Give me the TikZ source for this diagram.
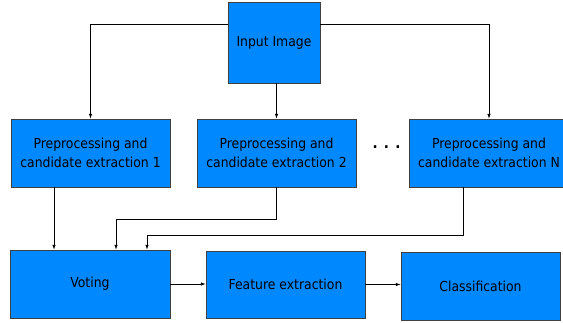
\documentclass[tikz,border=0pt]{standalone}
\usepackage{fontspec}
\setmainfont{DejaVu Sans Condensed}
\usetikzlibrary{arrows.meta}
\definecolor{boxblue}{RGB}{0,136,255}
\begin{document}
\begin{tikzpicture}[x=1pt, y=-1pt, every node/.style={font=\fontsize{13.8}{19}\selectfont},
  box/.style={draw=black!75, fill=boxblue, minimum width=159pt, minimum height=68pt, align=center, inner sep=0pt},
  arr/.style={-{Latex[length=5pt,width=3.5pt]}, black, line width=0.8pt}]
  \path[use as bounding box, clip] (0,0) rectangle (563,323);
  \node[box, minimum width=92pt, minimum height=81pt] (input) at (274,42.5) {Input Image};
  \node[box] (pre1) at (90.5,153) {Preprocessing and\\candidate extraction 1};
  \node[box] (pre2) at (276.5,153) {Preprocessing and\\candidate extraction 2};
  \node[box] (preN) at (489,153) {Preprocessing and\\candidate extraction N};
  \node (dots) at (386.5,147) {\fontsize{15}{15}\selectfont\bfseries . . .};
  \node[box, minimum width=160pt] (voting) at (90,284) {Voting};
  \node[box, minimum height=67pt] (feature) at (285.5,284.5) {Feature extraction};
  \node[box] (classif) at (480.5,286) {Classification};
  % input to the extraction branches
  \draw[arr] ([yshift=18.5pt]input.west) -| (pre1.north);
  \draw[arr] (pre2.north |- input.south) -- (pre2.north);
  \draw[arr] ([yshift=18.5pt]input.east) -| (preN.north);
  % branches to voting
  \coordinate (v1) at ([xshift=-36pt]voting.north);
  \coordinate (v2) at ([xshift=26pt]voting.north);
  \coordinate (vN) at ([xshift=57pt]voting.north);
  \draw[arr] (v1 |- pre1.south) -- (v1);
  \draw[arr] (pre2.south) -- ++(0,32) -| (v2);
  \draw[arr] ([xshift=-26pt]preN.south) -- ++(0,48) -| (vN);
  % pipeline
  \draw[arr] (voting.east) -- (voting.east -| feature.west);
  \draw[arr] (feature.east) -- (feature.east -| classif.west);
\end{tikzpicture}
\end{document}
